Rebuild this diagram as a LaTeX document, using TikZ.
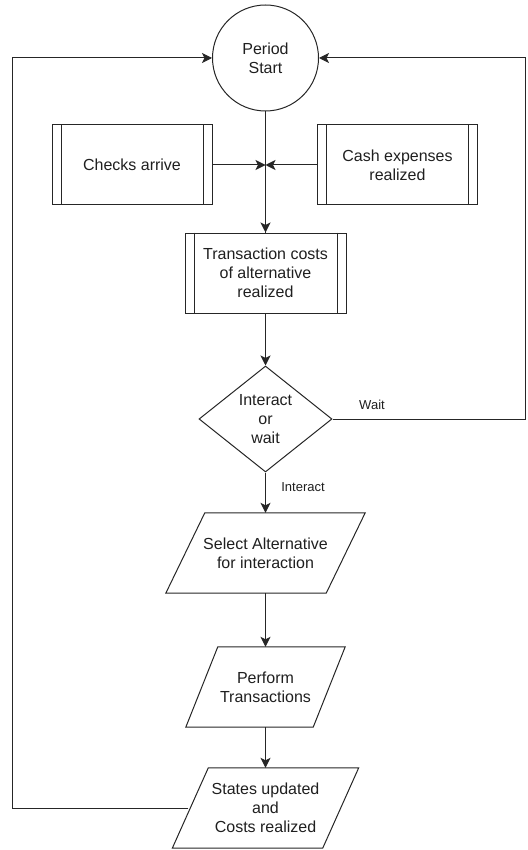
\documentclass[tikz,border=0pt]{standalone}
\usepackage{fontspec}
\setmainfont{Liberation Sans}
\usetikzlibrary{shapes.geometric,arrows.meta,calc}
\newcommand\paradraw[2]{\draw[shapeline] ([xshift=#2]#1.north west) -- (#1.north east) -- ([xshift=-#2]#1.south east) -- (#1.south west) -- cycle;}
\newcommand\subprocdraw[1]{\draw[shapeline] ([xshift=9.5pt]#1.north west) -- ([xshift=9.5pt]#1.south west); \draw[shapeline] ([xshift=-9.5pt]#1.north east) -- ([xshift=-9.5pt]#1.south east);}
\begin{document}
\begin{tikzpicture}[x=1pt,y=-1pt,
  shapeline/.style={draw=black!85, line width=1pt},
  txt/.style={font=\fontsize{16}{19}\selectfont, text=black!88, align=center, inner sep=0pt},
  subproc/.style={txt, shapeline, rectangle, minimum width=160pt, minimum height=80pt},
  para/.style={txt, rectangle, minimum height=80pt},
  conn/.style={draw=black!85, line width=1pt, -{Stealth[length=10pt,width=10pt,inset=2.5pt]}},
  plainconn/.style={draw=black!85, line width=1pt},
  lbl/.style={font=\fontsize{13}{15}\selectfont, text=black!88, inner sep=0pt}]
\useasboundingbox (0,0) rectangle (527,850);
\node[txt, shapeline, circle, minimum size=106pt] (start) at (265.5,58) {Period\\Start};
\node[subproc] (checks) at (132,165) {Checks arrive};
\node[subproc] (cash) at (397.5,165) {Cash expenses\\realized};
\node[subproc, minimum width=161pt] (trans) at (265.5,273) {Transaction costs\\of alternative\\realized};
\node[txt, shapeline, diamond, aspect=1.25, minimum width=133pt, minimum height=106pt] (dia) at (265.5,419) {Interact\\or\\wait};
\node[para, minimum width=199pt] (select) at (265.5,553) {Select Alternative\\for interaction};
\node[para, minimum width=159pt] (perform) at (265.5,687) {Perform\\Transactions};
\node[para, minimum width=186pt] (states) at (265.5,808) {States updated\\and\\Costs realized};
\subprocdraw{checks}
\subprocdraw{cash}
\subprocdraw{trans}
\paradraw{select}{39pt}
\paradraw{perform}{32pt}
\paradraw{states}{36pt}
\coordinate (merge) at (265.5,165);
\coordinate (lc) at (12.5,58);
\coordinate (rc) at (525.5,419);
\coordinate (stL) at ([xshift=16pt]states.west);
% main flow
\draw[plainconn] (start.south) -- (trans.north);
\draw[conn] (merge) -- (trans.north);
\draw[conn] (checks.east) -- (merge);
\draw[conn] (cash.west) -- (merge);
\draw[conn] (trans.south) -- (dia.north);
\draw[conn] (dia.south) -- (select.north);
\draw[conn] (select.south) -- (perform.north);
\draw[conn] (perform.south) -- (states.north);
% loops
\draw[conn] (stL) -| (lc) -- (start.west);
\draw[conn] (dia.east) -- (rc) |- (start.east);
% labels
\node[lbl, anchor=base] (waitlbl) at (372,409) {Wait};
\node[lbl, anchor=base] (interlbl) at (303,491) {Interact};
\end{tikzpicture}
\end{document}
